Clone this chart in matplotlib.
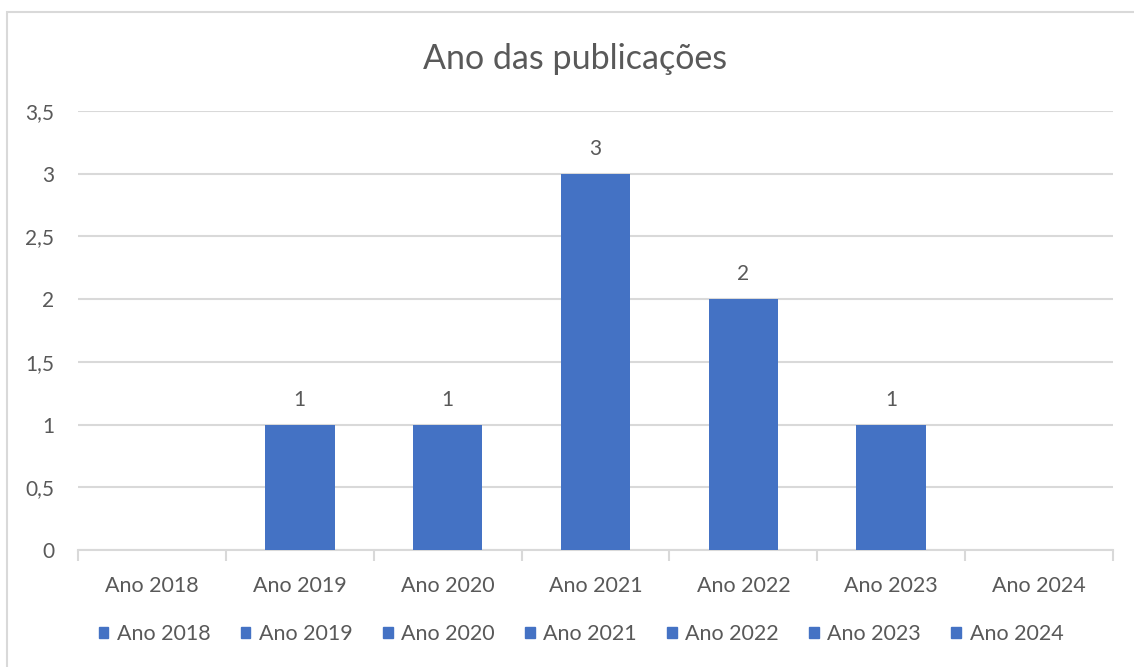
import matplotlib.pyplot as plt
from matplotlib.patches import Rectangle
from matplotlib.ticker import FuncFormatter, FixedLocator

# data
categories = ['Ano 2018', 'Ano 2019', 'Ano 2020', 'Ano 2021', 'Ano 2022', 'Ano 2023', 'Ano 2024']
counts = [0, 1, 1, 3, 2, 1, 0]
y_ticks = [0, 0.5, 1, 1.5, 2, 2.5, 3, 3.5]

bar_color = '#4472C4'
text_color = '#595959'
grid_color = '#D9D9D9'

plt.rcParams['font.family'] = ['Lato', 'DejaVu Sans']

fig = plt.figure(figsize=(11.34, 6.67), dpi=100)
ax = fig.add_axes([78 / 1134, 1 - 550 / 667, (1113 - 78) / 1134, (550 - 111) / 667])

# chart frame (top and left visible only, rest runs off the image)
fig.patches.append(Rectangle((7 / 1134, -0.1), 1.2, 1 - 12 / 667 + 0.1,
                             transform=fig.transFigure, fill=False,
                             edgecolor=grid_color, linewidth=1.5))

x = list(range(len(categories)))
bars = ax.bar(x, counts, width=0.47, color=bar_color, zorder=3)

for xi, v in zip(x, counts):
    if v > 0:
        ax.annotate(str(v), (xi, v), xytext=(0, 18), textcoords='offset points',
                    ha='center', va='center', fontsize=15, color=text_color)

ax.set_ylim(0, 3.5)
ax.set_xlim(-0.5, len(categories) - 0.5)
ax.set_yticks(y_ticks)
ax.yaxis.set_major_formatter(FuncFormatter(lambda v, p: ('%g' % v).replace('.', ',')))
ax.grid(axis='y', color=grid_color, linewidth=1.5, zorder=0)
ax.tick_params(axis='y', length=0, pad=17, labelsize=15, labelcolor=text_color)

ax.set_xticks(x)
ax.set_xticklabels(categories)
ax.xaxis.set_minor_locator(FixedLocator([i - 0.5 for i in range(len(categories) + 1)]))
ax.tick_params(axis='x', which='major', length=0, pad=19, labelsize=15.5, labelcolor=text_color)
ax.tick_params(axis='x', which='minor', length=8, width=1.5, color=grid_color)

for s in ['top', 'right', 'left']:
    ax.spines[s].set_visible(False)
ax.spines['bottom'].set_color(grid_color)
ax.spines['bottom'].set_linewidth(1.5)

fig.text(575 / 1134, 1 - 59 / 667, 'Ano das publicações', ha='center', va='center',
         fontsize=24.5, color=text_color)

handles = [Rectangle((0, 0), 1, 1, color=bar_color) for _ in categories]
leg = fig.legend(handles, categories, loc='center', bbox_to_anchor=(581 / 1134, 1 - 634 / 667),
                 ncol=len(categories), frameon=False, fontsize=15.5, handlelength=0.45,
                 handleheight=0.45, handletextpad=0.4, columnspacing=1.4)
for t in leg.get_texts():
    t.set_color(text_color)

fig.savefig('out.png', dpi=100)
